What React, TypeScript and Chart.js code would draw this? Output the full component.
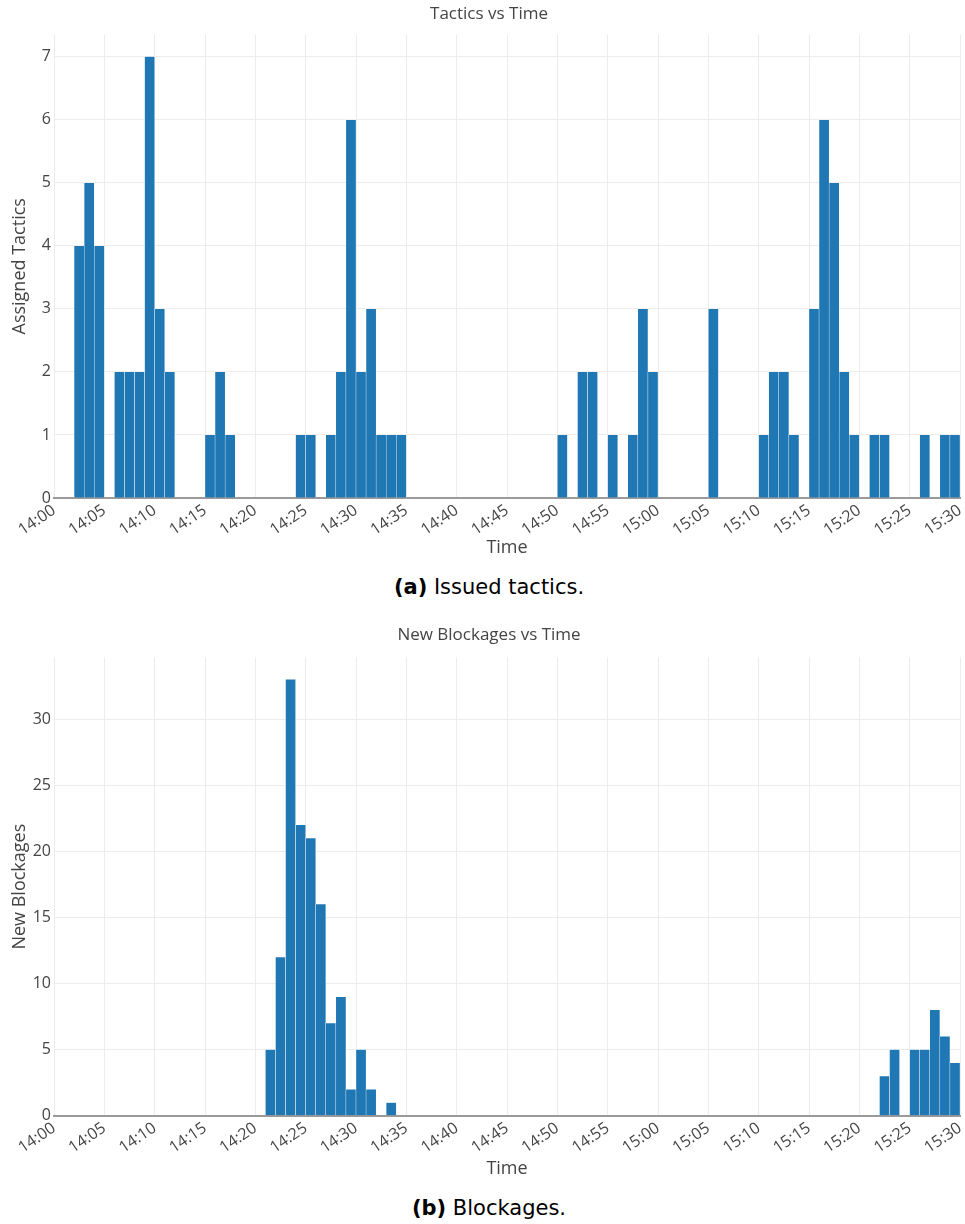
import React, { useEffect, useRef } from "react";
import { Chart, registerables } from "chart.js";

Chart.register(...registerables);

// Minute offsets (bin start, minutes after 14:00) and counts per 1-minute bin
const tacticMinutes = [2, 3, 4, 6, 7, 8, 9, 10, 11, 15, 16, 17, 24, 25, 27, 28, 29, 30, 31, 32, 33, 34, 50, 52, 53, 55, 57, 58, 59, 65, 70, 71, 72, 73, 75, 76, 77, 78, 79, 81, 82, 86, 88, 89];
const tacticCounts = [4, 5, 4, 2, 2, 2, 7, 3, 2, 1, 2, 1, 1, 1, 1, 2, 6, 2, 3, 1, 1, 1, 1, 2, 2, 1, 1, 3, 2, 3, 1, 2, 2, 1, 3, 6, 5, 2, 1, 1, 1, 1, 1, 1];

const blockageMinutes = [21, 22, 23, 24, 25, 26, 27, 28, 29, 30, 31, 33, 82, 83, 85, 86, 87, 88, 89];
const blockageCounts = [5, 12, 33, 22, 21, 16, 7, 9, 2, 5, 2, 1, 3, 5, 5, 5, 8, 6, 4];

const xTickLabels = ["14:00", "14:05", "14:10", "14:15", "14:20", "14:25", "14:30", "14:35", "14:40", "14:45", "14:50", "14:55", "15:00", "15:05", "15:10", "15:15", "15:20", "15:25", "15:30"];

const FONT = "'Open Sans', 'DejaVu Sans', sans-serif";
const TEXT = "#444";
const GRID = "#ececec";
const BAR = "#1f77b4";

type PanelProps = {
  top: number;
  height: number;
  title: string;
  yTitle: string;
  minutes: number[];
  counts: number[];
  yMax: number;
  yStep: number;
  titlePadBottom: number;
  xAxisHeight: number;
  xTitlePadBottom: number;
};

function Panel(p: PanelProps) {
  const ref = useRef<HTMLCanvasElement | null>(null);
  useEffect(() => {
    if (!ref.current) return;
    const data = p.minutes.map((m, i) => ({ x: m + 0.5, y: p.counts[i] }));
    const chart = new Chart(ref.current, {
      type: "bar",
      data: {
        datasets: [
          {
            data,
            backgroundColor: BAR,
            borderColor: "rgba(255,255,255,0.85)",
            borderWidth: { top: 0.5, left: 0.5, right: 0.5, bottom: 0 },
            borderSkipped: false,
            barPercentage: 1,
            categoryPercentage: 1,
          } as any,
        ],
      },
      options: {
        responsive: false,
        animation: false,
        layout: { padding: { left: 18, right: 5, top: 0, bottom: 0 } },
        plugins: {
          legend: { display: false },
          tooltip: { enabled: false },
          title: {
            display: true,
            text: p.title,
            color: TEXT,
            font: { family: FONT, size: 17, weight: "normal" },
            padding: { top: 3.8, bottom: p.titlePadBottom },
          },
        },
        scales: {
          x: {
            type: "linear",
            min: 0,
            max: 90,
            offset: false,
            ticks: {
              stepSize: 5,
              autoSkip: false,
              maxRotation: 34,
              minRotation: 34,
              color: TEXT,
              font: { family: FONT, size: 16 },
              padding: 3,
              callback: (v: any) => xTickLabels[Math.round(Number(v) / 5)],
            },
            grid: { color: GRID, drawTicks: false, offset: false, lineWidth: 1 },
            border: { display: true, color: "#9a9a9a", width: 2 },
            title: {
              display: true,
              text: "Time",
              color: TEXT,
              font: { family: FONT, size: 18 },
              padding: { top: 0, bottom: p.xTitlePadBottom },
            },
            afterFit: (s: any) => {
              s.height = p.xAxisHeight;
              s.paddingLeft = 0;
              s.paddingRight = 0;
            },
          } as any,
          y: {
            type: "linear",
            min: 0,
            max: p.yMax,
            ticks: {
              stepSize: p.yStep,
              includeBounds: false,
              color: TEXT,
              font: { family: FONT, size: 16 },
              padding: 3,
            },
            grid: { color: GRID, drawTicks: false },
            border: { display: false },
            title: {
              display: true,
              text: p.yTitle,
              color: TEXT,
              font: { family: FONT, size: 18 },
              padding: { top: -8.8, bottom: 0 },
            },
            afterFit: (s: any) => {
              s.width = 36;
              s.paddingTop = 0;
              s.paddingBottom = 0;
            },
          } as any,
        },
      },
    });
    return () => chart.destroy();
  }, []);
  return (
    <canvas
      ref={ref}
      width={965}
      height={p.height}
      style={{ position: "absolute", left: 0, top: p.top, width: 965, height: p.height }}
    />
  );
}

const captionStyle: React.CSSProperties = {
  position: "absolute",
  left: 13,
  width: 952,
  textAlign: "center",
  fontFamily: "'DejaVu Sans', sans-serif",
  fontSize: 21,
  lineHeight: "24px",
  color: "#000",
};

export default function App() {
  return (
    <div style={{ position: "absolute", left: 0, top: 0, width: 965, height: 1224, background: "#fff" }}>
      <Panel
        top={0}
        height={570}
        title="Tactics vs Time"
        yTitle="Assigned Tactics"
        minutes={tacticMinutes}
        counts={tacticCounts}
        yMax={7.35}
        yStep={1}
        titlePadBottom={10.4}
        xAxisHeight={72}
        xTitlePadBottom={11.2}
      />
      <div style={{ ...captionStyle, top: 575 }}>
        <b>(a)</b> Issued tactics.
      </div>
      <Panel
        top={621}
        height={567}
        title="New Blockages vs Time"
        yTitle="New Blockages"
        minutes={blockageMinutes}
        counts={blockageCounts}
        yMax={34.65}
        yStep={5}
        titlePadBottom={12.4}
        xAxisHeight={72.3}
        xTitlePadBottom={8.2}
      />
      <div style={{ ...captionStyle, top: 1196 }}>
        <b>(b)</b> Blockages.
      </div>
    </div>
  );
}
